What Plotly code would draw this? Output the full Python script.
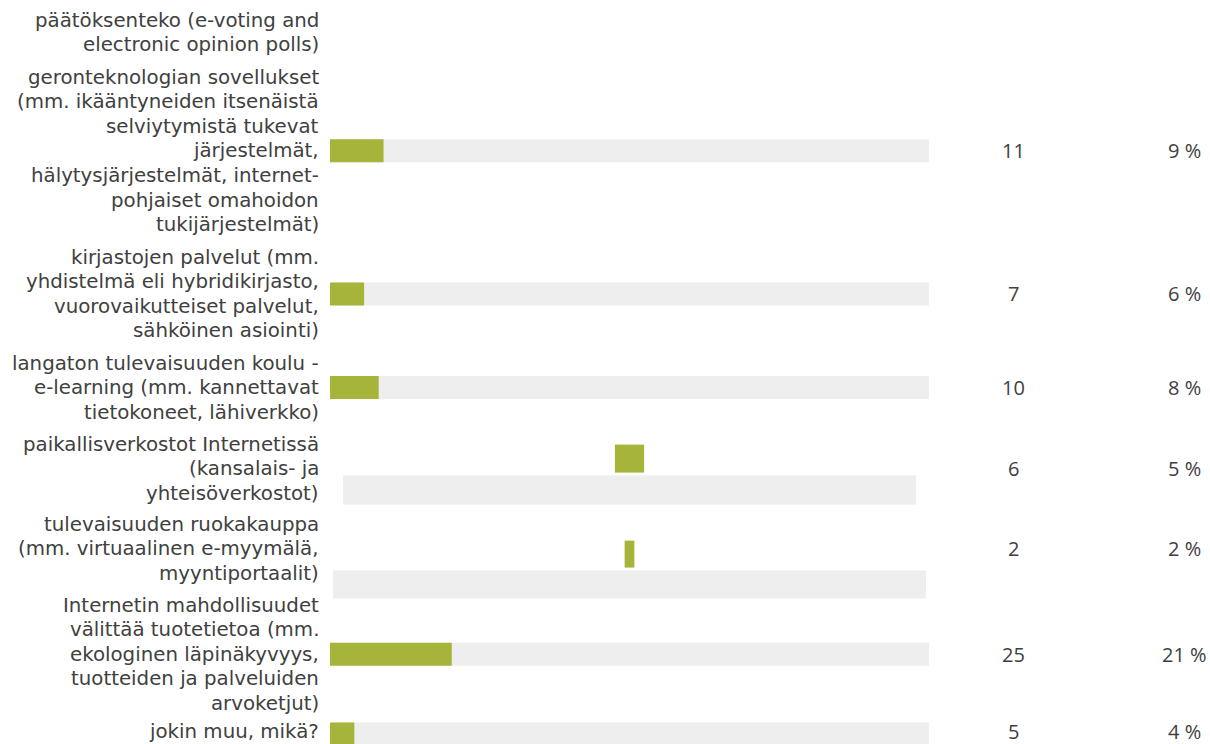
import plotly.graph_objects as go

# ---------------- data ----------------
labels = [
    "päätöksenteko (e-voting and<br>electronic opinion polls)",
    "geronteknologian sovellukset<br>(mm. ikääntyneiden itsenäistä<br>selviytymistä tukevat<br>järjestelmät,<br>hälytysjärjestelmät, internet-<br>pohjaiset omahoidon<br>tukijärjestelmät)",
    "kirjastojen palvelut (mm.<br>yhdistelmä eli hybridikirjasto,<br>vuorovaikutteiset palvelut,<br>sähköinen asiointi)",
    "langaton tulevaisuuden koulu -<br>e-learning (mm. kannettavat<br>tietokoneet, lähiverkko)",
    "paikallisverkostot Internetissä<br>(kansalais- ja<br>yhteisöverkostot)",
    "tulevaisuuden ruokakauppa<br>(mm. virtuaalinen e-myymälä,<br>myyntiportaalit)",
    "Internetin mahdollisuudet<br>välittää tuotetietoa (mm.<br>ekologinen läpinäkyvyys,<br>tuotteiden ja palveluiden<br>arvoketjut)",
    "jokin muu, mikä?",
]
counts = [None, 11, 7, 10, 6, 2, 25, 5]
percents = [None, 9, 6, 8, 5, 2, 21, 4]
TOTAL = 123  # scale of the full track (number of answers)

# ---------------- layout constants (pixels) ----------------
W, H = 1210, 744
TRACK_X0, TRACK_X1 = 330, 929
LINE_H = 24.6
first_line_y = [20, 77, 257, 363, 444, 524, 605, 734]
# per-row bar geometry relative to row centre: (green dy, green h, track dy, track h, track inset px, centred)
row_geom = [
    None,
    (0, 23, 0, 23, 0, False),
    (0, 23, 0, 23, 0, False),
    (0, 23, 0, 23, 0, False),
    (-10, 28, 21.5, 29, 13, True),
    (5.5, 27, 36, 28, 3, True),
    (0, 23, 0, 23, 0, False),
    (0, 23, 0, 23, 0, False),
]
GREEN = "#a6b539"
TRACK = "#eeeeee"
TEXT = "#404040"
LABEL_FONT = "DejaVu Sans"
NUM_FONT = "Open Sans"
LABEL_SIZE = 19.8
NUM_SIZE = 20

ppu = (TRACK_X1 - TRACK_X0) / TOTAL  # pixels per answer


def fit_y(y, size):
    # keep the text box inside the page
    half = size * 1.3 / 2
    return min(y, H - half)


row_center = []
for lab, y0 in zip(labels, first_line_y):
    n = lab.count("<br>") + 1
    row_center.append(y0 + (n - 1) / 2 * LINE_H)

tr_x, tr_base, tr_y, tr_w = [], [], [], []
g_x, g_base, g_y, g_w = [], [], [], []
for i, c in enumerate(counts):
    if c is None:
        continue
    gdy, gh, tdy, th, inset, centred = row_geom[i]
    ins = inset / ppu
    tr_x.append(TOTAL - 2 * ins)
    tr_base.append(ins)
    tr_y.append(row_center[i] + tdy)
    tr_w.append(th)
    g_x.append(c)
    g_base.append(TOTAL / 2 - c / 2 if centred else 0)
    g_y.append(row_center[i] + gdy)
    g_w.append(gh)

fig = go.Figure()
fig.add_trace(go.Bar(x=tr_x, base=tr_base, y=tr_y, width=tr_w, orientation="h",
                     marker=dict(color=TRACK, line=dict(width=0)), hoverinfo="skip"))
fig.add_trace(go.Bar(x=g_x, base=g_base, y=g_y, width=g_w, orientation="h",
                     marker=dict(color=GREEN, line=dict(width=0)), hoverinfo="skip"))

annotations = []
for lab, y0 in zip(labels, first_line_y):
    for j, line in enumerate(lab.split("<br>")):
        annotations.append(dict(
            text=line, x=321 / W, xref="paper", xanchor="right",
            y=fit_y(y0 + j * LINE_H, LABEL_SIZE), yref="y", yanchor="middle", showarrow=False,
            font=dict(family=LABEL_FONT, size=LABEL_SIZE, color=TEXT)))
for i, c in enumerate(counts):
    if c is None:
        continue
    yy = fit_y(row_center[i], NUM_SIZE)
    annotations.append(dict(text=str(c), x=1013 / W, xref="paper", xanchor="center",
                            y=yy, yref="y", yanchor="middle", showarrow=False,
                            font=dict(family=NUM_FONT, size=NUM_SIZE, color=TEXT)))
    annotations.append(dict(text=f"{percents[i]} %", x=1184 / W, xref="paper", xanchor="center",
                            y=yy, yref="y", yanchor="middle", showarrow=False,
                            font=dict(family=NUM_FONT, size=NUM_SIZE, color=TEXT)))

fig.update_layout(
    width=W, height=H,
    margin=dict(l=0, r=0, t=0, b=0),
    paper_bgcolor="white", plot_bgcolor="white",
    barmode="overlay", showlegend=False,
    xaxis=dict(domain=[0, 1], range=[-TRACK_X0 / ppu, (W - TRACK_X0) / ppu],
               visible=False, fixedrange=True),
    yaxis=dict(domain=[0, 1], range=[H, 0], visible=False, fixedrange=True),
    annotations=annotations,
    hovermode=False,
)

fig.write_html("out.html", config={"displayModeBar": False},
               post_script="document.body.style.margin='0';document.body.style.padding='0';"
                           "document.body.style.overflow='hidden';")
